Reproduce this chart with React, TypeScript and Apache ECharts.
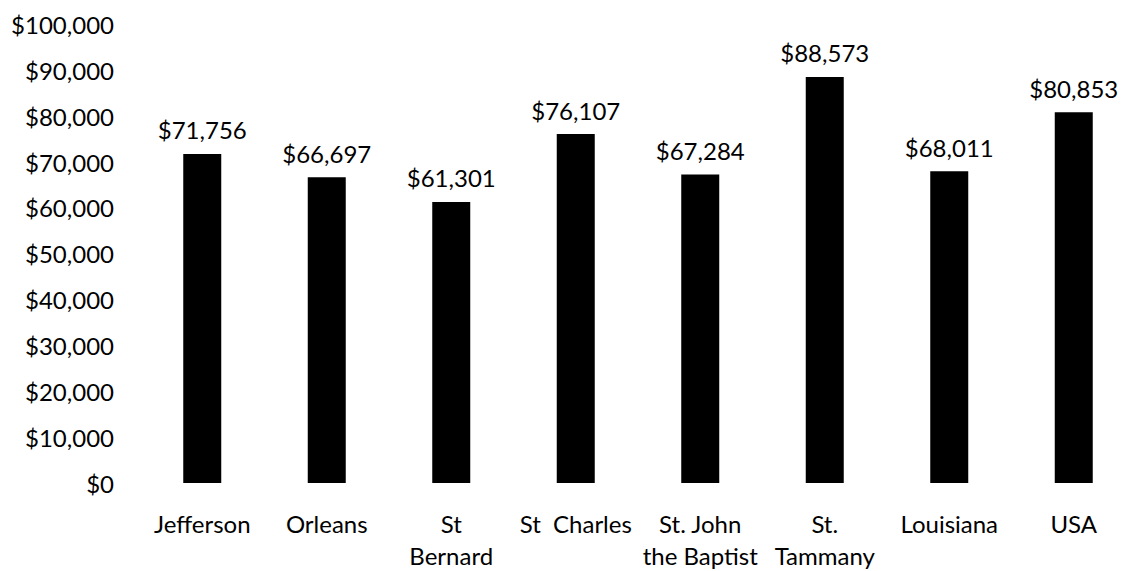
import React, { useEffect, useRef } from "react";
import * as echarts from "echarts";

const categories = [
  "Jefferson",
  "Orleans",
  "St\nBernard",
  "St  Charles",
  "St. John\nthe Baptist",
  "St.\nTammany",
  "Louisiana",
  "USA",
];
const incomeValues = [71756, 66697, 61301, 76107, 67284, 88573, 68011, 80853];
const yMin = 0;
const yMax = 100000;
const yInterval = 10000;

const fmt = (v: number) => "$" + v.toLocaleString("en-US");

export default function App() {
  const ref = useRef<HTMLDivElement>(null);
  useEffect(() => {
    document.body.style.margin = "0";
    const chart = echarts.init(ref.current!, null, { renderer: "svg" });
    const font = "Lato, 'Open Sans', sans-serif";
    chart.setOption({
      animation: false,
      backgroundColor: "#ffffff",
      grid: { left: 140, width: 1007, top: 24.5, height: 459.5 },
      xAxis: {
        type: "category",
        data: categories,
        axisLine: { show: false },
        axisTick: { show: false },
        axisLabel: {
          interval: 0,
          color: "#000",
          fontFamily: font,
          fontSize: 24,
          lineHeight: 32,
          margin: 24,
          verticalAlign: "top",
        },
      },
      yAxis: {
        type: "value",
        min: yMin,
        max: yMax,
        interval: yInterval,
        splitLine: { show: false },
        axisLine: { show: false },
        axisTick: { show: false },
        axisLabel: {
          color: "#000",
          fontFamily: font,
          fontSize: 24,
          margin: 26,
          formatter: (v: number) => fmt(v),
        },
      },
      series: [
        {
          type: "bar",
          data: incomeValues,
          barWidth: 38,
          itemStyle: { color: "#000" },
          label: {
            show: true,
            position: "top",
            distance: 12,
            color: "#000",
            fontFamily: font,
            fontSize: 24,
            formatter: (p: any) => fmt(p.value),
          },
        },
      ],
    });
    return () => chart.dispose();
  }, []);
  return <div ref={ref} style={{ width: 1136, height: 571 }} />;
}
